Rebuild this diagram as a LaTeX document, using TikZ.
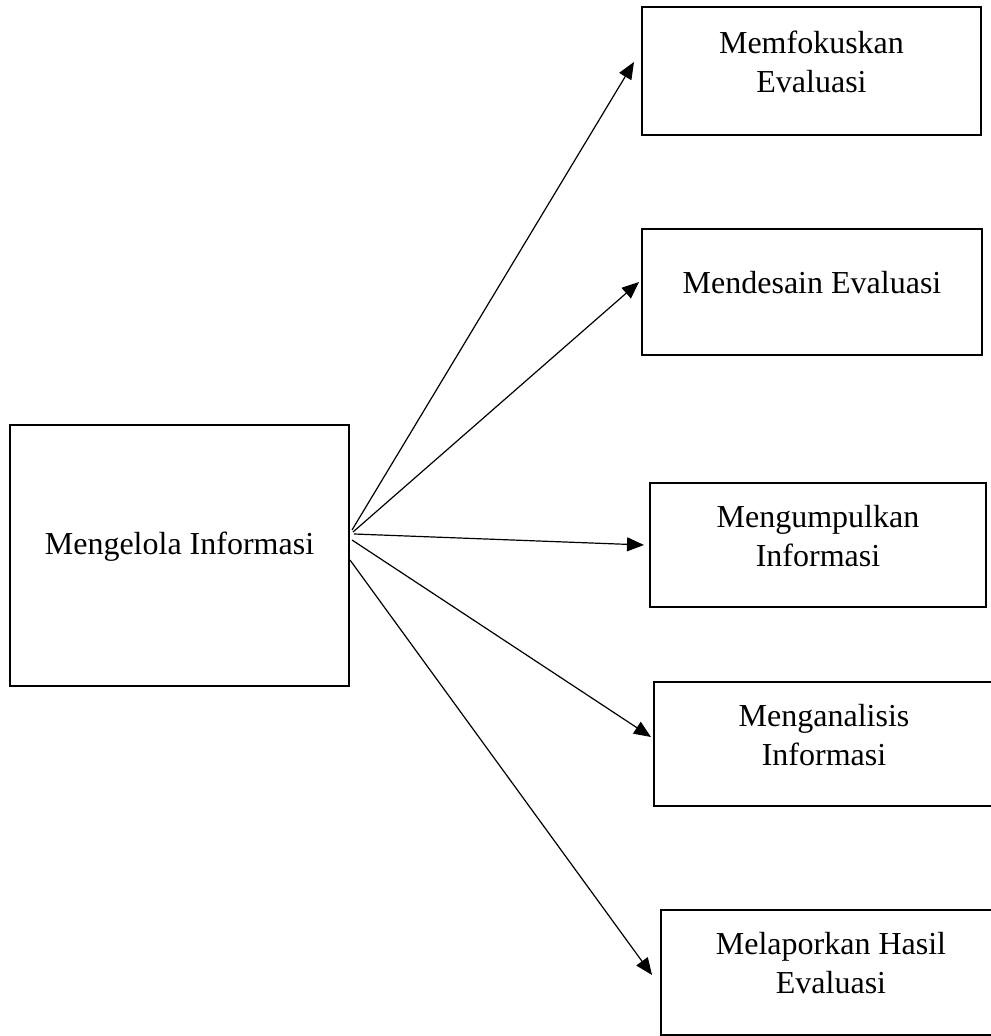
\documentclass[tikz,border=0pt]{standalone}
\usepackage{fontspec}
\setmainfont{Liberation Serif}
\usetikzlibrary{arrows.meta, positioning}

\begin{document}
\begin{tikzpicture}[x=0.5pt, y=-0.5pt,
        kotak/.style={draw, rectangle, line width=1pt, inner sep=0pt},
        tulisan/.style={font=\fontsize{16}{19.5}\selectfont, align=center, inner sep=0pt, yshift=4.5pt},
        panah/.style={-{Triangle[length=8.5pt,width=7pt]}, line width=0.6pt}]
        \useasboundingbox (0,0) rectangle (990,1036);

        \node[kotak, minimum width=169.5pt, minimum height=130.5pt,
            label={[tulisan]center:Mengelola Informasi}] (kelola) at (179.5,555.5) {};

        \node[kotak, minimum width=169.5pt, minimum height=64pt,
            label={[tulisan]center:Memfokuskan\\Evaluasi}] (fokus) at (811.5,71) {};
        \node[kotak, minimum width=170pt, minimum height=63pt,
            label={[tulisan]center:Mendesain Evaluasi}] (desain) at (812,292) {};
        \node[kotak, minimum width=168pt, minimum height=62pt,
            label={[tulisan]center:Mengumpulkan\\Informasi}] (kumpul) at (818,545) {};
        \node[kotak, minimum width=170pt, minimum height=62pt,
            label={[tulisan]center:Menganalisis\\Informasi}] (analisis) at (824,744) {};
        \node[kotak, minimum width=170pt, minimum height=62.5pt,
            label={[tulisan]center:Melaporkan Hasil\\Evaluasi}] (lapor) at (831,972.5) {};

        \draw[panah] ([shift={(2,-25.5)}]kelola.east) -- ([shift={(-7,-9)}]fokus.west);
        \draw[panah] ([shift={(3,-23.5)}]kelola.east) -- ([shift={(-2,-10)}]desain.west);
        \draw[panah] ([shift={(4,-21.5)}]kelola.east) -- ([shift={(-5,0)}]kumpul.west);
        \draw[panah] ([shift={(2,-15.5)}]kelola.east) -- ([shift={(-2,-7)}]analisis.west);
        \draw[panah] ([shift={(0,4.5)}]kelola.east) -- ([shift={(-8,2.5)}]lapor.west);
\end{tikzpicture}
\end{document}
